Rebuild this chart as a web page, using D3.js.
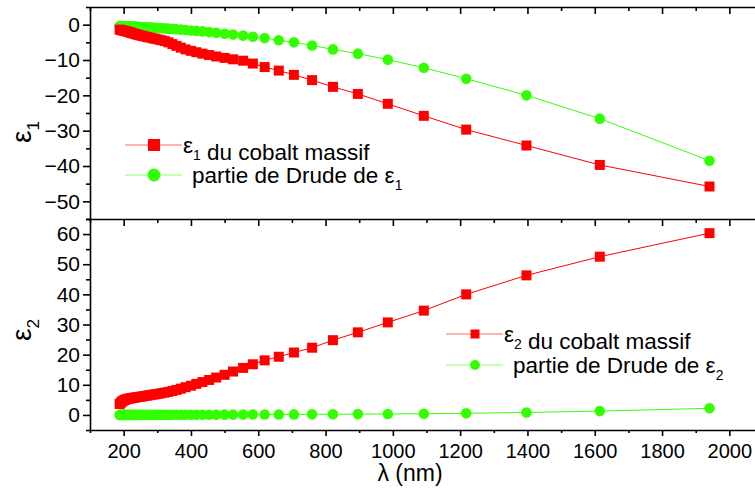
<!DOCTYPE html>
<html>
<head>
<meta charset="utf-8">
<script src="https://cdn.jsdelivr.net/npm/d3@7"></script>
<style>
  body { margin: 0; background: #fff; }
  svg { font-family: "Liberation Sans", Arial, sans-serif; }
  .axis path, .axis line { stroke: #000; stroke-width: 1.6; }
  .axis text { fill: #000; }
</style>
</head>
<body>
<div id="chart"></div>
<script>
// wavelengths (nm) of the points
const lambda = [188, 192, 196, 200, 204, 208, 213, 218, 222, 227, 233, 238, 244, 250, 256, 263, 270, 277,
  286, 294, 303, 312, 322, 333, 345, 357, 370, 384, 400, 416, 434, 454, 475, 500, 525, 555, 584, 619,
  661, 706, 760, 822, 896, 985, 1092, 1218, 1397, 1615, 1941];

// eps1 of bulk cobalt
const eps1Bulk = [-1.4, -1.5, -1.6, -1.7, -1.8, -1.9, -2.0, -2.15, -2.3, -2.45, -2.6, -2.75, -2.9, -3.05,
  -3.2, -3.35, -3.5, -3.65, -3.85, -4.0, -4.2, -4.4, -4.65, -5.0, -5.5, -6.0, -6.5, -7.0, -7.4, -7.8,
  -8.2, -8.6, -9.0, -9.4, -9.8, -10.2, -11.0, -12.0, -13.0, -14.2, -15.7, -17.6, -19.6, -22.4, -25.8,
  -29.7, -34.2, -39.7, -45.8];

// Drude part of eps1
const eps1Drude = [-0.36, -0.38, -0.39, -0.41, -0.43, -0.44, -0.46, -0.49, -0.5, -0.53, -0.56, -0.58,
  -0.61, -0.64, -0.67, -0.71, -0.75, -0.78, -0.84, -0.88, -0.94, -1.0, -1.06, -1.13, -1.2, -1.3, -1.4,
  -1.5, -1.63, -1.77, -1.9, -2.1, -2.3, -2.55, -2.8, -3.1, -3.4, -3.8, -4.4, -5.0, -5.9, -7.0, -8.2,
  -9.9, -12.2, -15.3, -20.0, -26.6, -38.5];

// eps2 of bulk cobalt
const eps2Bulk = [3.6, 4.1, 4.5, 4.8, 5.0, 5.2, 5.35, 5.45, 5.55, 5.65, 5.75, 5.85, 5.95, 6.05, 6.15,
  6.3, 6.4, 6.55, 6.7, 6.85, 7.0, 7.2, 7.4, 7.65, 7.95, 8.3, 8.7, 9.2, 9.7, 10.3, 10.9, 11.6, 12.4,
  13.3, 14.4, 15.6, 16.8, 18.1, 19.3, 20.7, 22.3, 24.8, 27.4, 30.7, 34.6, 40.0, 46.3, 52.5, 60.3];

// Drude part of eps2
const eps2Drude = [0.01, 0.01, 0.01, 0.01, 0.01, 0.01, 0.01, 0.01, 0.01, 0.01, 0.01, 0.01, 0.02, 0.02,
  0.02, 0.02, 0.02, 0.02, 0.02, 0.02, 0.03, 0.03, 0.03, 0.03, 0.04, 0.04, 0.04, 0.05, 0.05, 0.06,
  0.06, 0.07, 0.08, 0.09, 0.1, 0.11, 0.12, 0.14, 0.16, 0.18, 0.2, 0.24, 0.28, 0.32, 0.4, 0.55, 0.82,
  1.27, 2.2];

const xMajor = [200, 400, 600, 800, 1000, 1200, 1400, 1600, 1800, 2000];
const xMinor = [100, 300, 500, 700, 900, 1100, 1300, 1500, 1700, 1900, 2100];
const y1Major = [0, -10, -20, -30, -40, -50];
const y1Minor = [5, -5, -15, -25, -35, -45, -55];
const y2Major = [0, 10, 20, 30, 40, 50, 60];
const y2Minor = [-5, 5, 15, 25, 35, 45, 55, 65];

const RED = '#ff0000';
const GREEN = '#33ff00';

const width = 755, height = 490;
const svg = d3.select('#chart').append('svg')
  .attr('width', width)
  .attr('height', height);

// scales
const x = d3.scaleLinear().domain([100, 2100]).range([90, 763]);
const y1 = d3.scaleLinear().domain([-55, 5]).range([219, 7]);
const y2 = d3.scaleLinear().domain([-5, 65]).range([430, 219]);

// helper: draw an axis with major + minor ticks
function drawAxis(gen, scale, pos, major, minor, majorLen, minorLen, labels, pad, fs) {
  const g = svg.append('g').attr('class', 'axis').attr('transform', pos);
  g.call(gen(scale).tickValues(major).tickSize(majorLen).tickSizeOuter(0).tickPadding(pad || 3)
    .tickFormat(labels ? d3.format('d') : ''));
  g.append('g').call(gen(scale).tickValues(minor).tickSize(minorLen).tickSizeOuter(0).tickFormat(''))
    .select('.domain').remove();
  if (!labels) g.selectAll('text').remove();
  else g.selectAll('text').style('font-size', fs + 'px');
  return g;
}

// top panel
drawAxis(d3.axisLeft, y1, 'translate(90,0)', y1Major, y1Minor, 7, 4, true, 3, 21);
drawAxis(d3.axisBottom, x, `translate(0,${y1.range()[1]})`, xMajor, xMinor, 7, 4, false);

// bottom panel
drawAxis(d3.axisLeft, y2, 'translate(90,0)', y2Major, y2Minor, 7, 4, true, 3, 21);
drawAxis(d3.axisBottom, x, 'translate(0,219)', xMajor, xMinor, 7, 4, false);
drawAxis(d3.axisBottom, x, 'translate(0,430)', xMajor, xMinor, 6, 3, true, 8, 20);

// series
function drawSeries(yScale, values, color, shape) {
  const pts = lambda.map((l, i) => [l, values[i]]);
  const line = d3.line().x(d => x(d[0])).y(d => yScale(d[1]));
  svg.append('path')
    .datum(pts)
    .attr('fill', 'none')
    .attr('stroke', color)
    .attr('stroke-width', 1)
    .attr('d', line);
  if (shape === 'square') {
    svg.append('g').selectAll('rect').data(pts).join('rect')
      .attr('x', d => x(d[0]) - 5)
      .attr('y', d => yScale(d[1]) - 5)
      .attr('width', 10).attr('height', 10)
      .attr('fill', color);
  } else {
    svg.append('g').selectAll('circle').data(pts).join('circle')
      .attr('cx', d => x(d[0]))
      .attr('cy', d => yScale(d[1]))
      .attr('r', 5.3)
      .attr('fill', color);
  }
}

drawSeries(y1, eps1Drude, GREEN, 'circle');
drawSeries(y1, eps1Bulk, RED, 'square');
drawSeries(y2, eps2Drude, GREEN, 'circle');
drawSeries(y2, eps2Bulk, RED, 'square');

// axis titles
function epsLabel(sel, sub, size) {
  sel.append('tspan').text('ε');
  sel.append('tspan').attr('dy', size * 0.3).style('font-size', (size * 0.62) + 'px').text(sub);
}

const t1 = svg.append('text')
  .attr('transform', 'translate(31,132) rotate(-90)')
  .attr('text-anchor', 'middle')
  .style('font-size', '28px');
epsLabel(t1, '1', 28);

const t2 = svg.append('text')
  .attr('transform', 'translate(31,330) rotate(-90)')
  .attr('text-anchor', 'middle')
  .style('font-size', '28px');
epsLabel(t2, '2', 28);

svg.append('text')
  .attr('x', 410).attr('y', 481)
  .attr('text-anchor', 'middle')
  .style('font-size', '23px')
  .text('λ (nm)');

// legends
function legendItem(lx, ly, color, shape, msize, parts, textX, fontSize) {
  svg.append('line')
    .attr('x1', lx).attr('x2', lx + 57)
    .attr('y1', ly).attr('y2', ly)
    .attr('stroke', color).attr('stroke-width', 1).attr('stroke-opacity', 0.6);
  const cx = lx + 29;
  if (shape === 'square') {
    svg.append('rect')
      .attr('x', cx - msize / 2).attr('y', ly - msize / 2)
      .attr('width', msize).attr('height', msize)
      .attr('fill', color);
  } else {
    svg.append('circle').attr('cx', cx).attr('cy', ly).attr('r', msize / 2).attr('fill', color);
  }
  const t = svg.append('text').attr('x', textX).attr('y', ly + 8).style('font-size', fontSize + 'px');
  parts.forEach(p => {
    if (p.sub) {
      t.append('tspan').attr('dy', fontSize * 0.3).style('font-size', (fontSize * 0.62) + 'px').text(p.sub);
      t.append('tspan').attr('dy', -fontSize * 0.3).text('');
    } else {
      t.append('tspan').text(p.text);
    }
  });
}

legendItem(125, 145, RED, 'square', 12, [{ text: 'ε' }, { sub: '1' }, { text: ' du cobalt massif' }], 183, 22.5);
legendItem(125, 175, GREEN, 'circle', 13, [{ text: 'partie de Drude de ε' }, { sub: '1' }], 192, 22.5);
legendItem(446, 334, RED, 'square', 9, [{ text: 'ε' }, { sub: '2' }, { text: ' du cobalt massif' }], 504, 22.5);
legendItem(446, 365, GREEN, 'circle', 10, [{ text: 'partie de Drude de ε' }, { sub: '2' }], 513, 22.5);
</script>
</body>
</html>
